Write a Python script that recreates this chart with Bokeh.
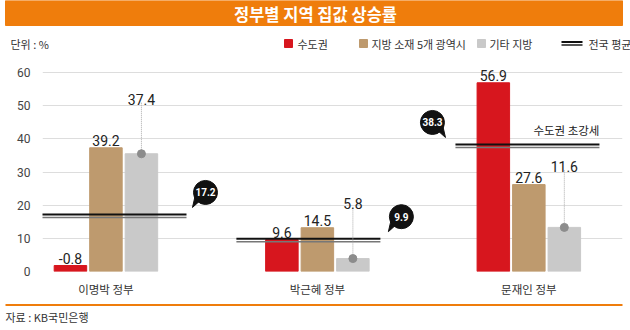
from bokeh.plotting import figure
from bokeh.layouts import column
from bokeh.models import Range1d, FixedTicker
from bokeh.core.properties import value
from bokeh.embed import file_html
from bokeh.resources import INLINE

# ---------------- data ----------------
governments = ["이명박 정부", "박근혜 정부", "문재인 정부"]
series_names = ["수도권", "지방 소재 5개 광역시", "기타 지방"]
avg_name = "전국 평균"
# printed values
capital_labels = ["-0.8", "9.6", "56.9"]
metro_labels = ["39.2", "14.5", "27.6"]
other_labels = ["37.4", "5.8", "11.6"]
# bar heights as drawn in the picture
capital_heights = [1.8, 9.6, 56.9]
metro_heights = [37.3, 13.2, 26.2]
other_heights = [35.5, 3.9, 13.3]
national_avg = [17.2, 9.9, 38.3]
y_ticks = [0, 10, 20, 30, 40, 50, 60]

# ---------------- style / layout ----------------
W = 630
RED, TAN, GRAY = "#D7161E", "#BE9A6E", "#C9C9C9"
ORANGE = "#EF7D0C"
KR = "Noto Sans CJK KR"
NUM = "Roboto"
TXT = "#333333"


def blank(h):
    f = figure(width=W, height=h, output_backend="svg", toolbar_location=None,
               x_range=Range1d(0, W), y_range=Range1d(h, 0),
               x_axis_location=None, y_axis_location=None,
               min_border=0, min_border_left=0, min_border_right=0,
               min_border_top=0, min_border_bottom=0, outline_line_color=None,
               background_fill_color="white", border_fill_color="white",
               frame_align=False)
    f.grid.visible = False
    return f


# ---- header: title bar + legend ----
top = blank(58)
top.quad(left=[5], right=[622], top=[0], bottom=[25], color=ORANGE)
top.text(x=[315], y=[13], text=["정부별 지역 집값 상승률"], text_font=value(KR),
         text_font_size="16.5px", text_font_style="bold", text_color="white",
         text_align="center", text_baseline="middle")
top.text(x=[10], y=[43], text=["단위 : %"], text_font=value(KR), text_font_size="11px",
         text_color=TXT, text_baseline="middle")
leg_sq_x = [288, 363, 481]
leg_tx_x = [297, 371, 489]
top.rect(x=leg_sq_x, y=[43] * 3, width=8, height=8, color=[RED, TAN, GRAY])
top.text(x=leg_tx_x, y=[43] * 3, text=series_names, text_font=value(KR),
         text_font_size="11px", text_color=TXT, text_baseline="middle")
top.segment(x0=[561, 561], x1=[582, 582], y0=[41.5, 44.5], y1=[41.5, 44.5],
            line_color=["#111111", "#555555"], line_width=2)
top.text(x=[588], y=[43], text=[avg_name], text_font=value(KR), text_font_size="11px",
         text_color=TXT, text_baseline="middle")

# ---- main chart ----
FL, FR, FT, FB = 42, 8, 0, 32
PH = 213 + FB
PXY = 199 / 60.0      # px per y unit
p = figure(width=W, height=PH, output_backend="svg", toolbar_location=None,
           x_range=Range1d(-0.3, 2.443), y_range=Range1d(0, 213 / PXY),
           min_border_left=FL, min_border_right=FR, min_border_top=FT,
           min_border_bottom=FB, outline_line_color=None,
           background_fill_color="white", border_fill_color="white",
           frame_align=False)

PXX = 580 / 2.743     # px per x unit


def dx(px):
    return px / PXX


def dy(px):
    return px / PXY


off = dx(35.5)
bw = dx(32.5)
xs = [0, 1, 2]

p.vbar(x=[x - off for x in xs], top=capital_heights, width=bw, color=RED)
p.vbar(x=xs, top=metro_heights, width=bw, color=TAN)
p.vbar(x=[x + off for x in xs], top=other_heights, width=bw, color=GRAY)

p.yaxis.ticker = FixedTicker(ticks=y_ticks)
p.yaxis.axis_line_color = None
p.yaxis.major_tick_line_color = None
p.yaxis.minor_tick_line_color = None
p.yaxis.major_label_text_font = NUM
p.yaxis.major_label_text_font_size = "12px"
p.yaxis.major_label_text_color = "#444444"
p.yaxis.major_label_standoff = 6

p.xaxis.ticker = FixedTicker(ticks=xs)
p.xaxis.major_label_overrides = {i: g for i, g in enumerate(governments)}
p.xaxis.axis_line_color = None
p.xaxis.major_tick_line_color = None
p.xaxis.minor_tick_line_color = None
p.xaxis.major_label_text_font = KR
p.xaxis.major_label_text_font_size = "11.5px"
p.xaxis.major_label_text_color = TXT
p.xaxis.major_label_standoff = 3

p.xgrid.grid_line_color = None
p.ygrid.grid_line_color = "#DDDDDD"
p.ygrid.grid_line_width = 1

# national average double lines
line_ext = [(-0.305, 0.381), (-0.383, 0.298), (-0.347, 0.334)]
x0s = [g + e[0] for g, e in zip(xs, line_ext)]
x1s = [g + e[1] for g, e in zip(xs, line_ext)]
p.segment(x0=x0s, x1=x1s, y0=national_avg, y1=national_avg, line_color="#111111", line_width=2)
low = [v - dy(3) for v in national_avg]
p.segment(x0=x0s, x1=x1s, y0=low, y1=low, line_color="#777777", line_width=1.5)

# bubbles
bub_dx = [dx(19), dx(21), -dx(23)]
bub_anchor = [x1s[0], x1s[1], x0s[2]]
bub_x = [a + d for a, d in zip(bub_anchor, bub_dx)]
bub_y = [v + dy(22) for v in national_avg]
tail_dir = [-1, -1, 1]
tx, ty = [], []
for bx, by, d in zip(bub_x, bub_y, tail_dir):
    tx.append([bx + d * dx(3), bx + d * dx(10), bx + d * dx(13)])
    ty.append([by - dy(6), by - dy(2), by - dy(15)])
p.patches(tx, ty, color="#111111")
p.scatter(bub_x, bub_y, size=24, color="#111111")
p.text(x=bub_x, y=bub_y, text=[str(v) for v in national_avg], text_color="white",
       text_font=value(NUM), text_font_size="10px", text_font_style="bold",
       text_align="center", text_baseline="middle")

# gray dots & leader lines
dot_x = [x + off for x in xs]
lead_top = [h + dy(d) for h, d in zip(other_heights, [51, 52, 57])]
p.segment(x0=dot_x, x1=dot_x, y0=other_heights, y1=lead_top, line_color="#AAAAAA",
          line_width=1, line_dash="1 1")
p.scatter(dot_x, other_heights, size=8, color="#8C8C8C")


def labels(xv, yv, txt, yoff):
    p.text(x=xv, y=yv, text=txt, text_font=value(NUM), text_font_size="14px",
           text_color="#222222", text_align="center", text_baseline="bottom",
           y_offset=yoff)


labels([x - off for x in xs], capital_heights, capital_labels, -2)
labels(xs, metro_heights, metro_labels, -2)
labels(dot_x, lead_top, other_labels, 2)

p.text(x=[x1s[2]], y=[national_avg[2] + dy(6)], text=["수도권 초강세"], text_font=value(KR),
       text_font_size="11.5px", text_color="#222222", text_align="right",
       text_baseline="bottom")

# ---- footer ----
BH = 330 - 58 - PH
bot = blank(BH)
bot.segment(x0=[5], x1=[622], y0=[1.5], y1=[1.5], line_color=ORANGE, line_width=2)
bot.text(x=[5], y=[13], text=["자료 : KB국민은행"], text_font=value(KR),
         text_font_size="11px", text_color=TXT, text_baseline="middle")

layout = column(top, p, bot, spacing=0)
open("out.html", "w").write(file_html(layout, INLINE))
